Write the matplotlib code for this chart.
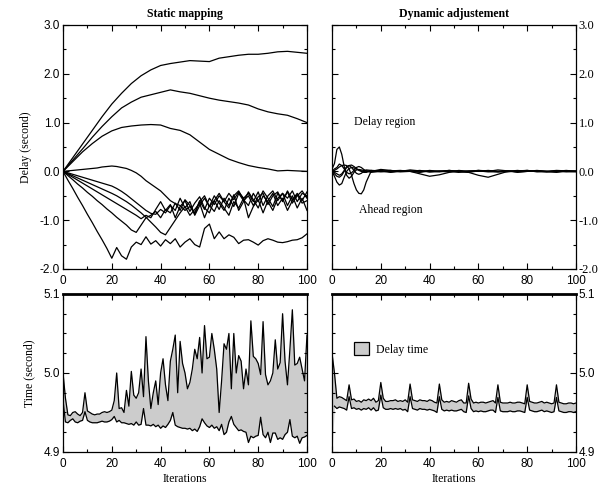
import numpy as np
import matplotlib
matplotlib.use("Agg")
import matplotlib.pyplot as plt
from matplotlib.ticker import MultipleLocator
from matplotlib.patches import Patch

# ---- static mapping: delay curves ----
iter_smooth = list(range(0, 101, 4))
delay_a = [0, 0.28, 0.56, 0.84, 1.12, 1.38, 1.6, 1.8, 1.96, 2.08, 2.17, 2.21, 2.24,
           2.27, 2.26, 2.25, 2.32, 2.35, 2.38, 2.40, 2.40, 2.42, 2.45, 2.46, 2.44, 2.42]
delay_b = [0, 0.23, 0.46, 0.7, 0.92, 1.12, 1.3, 1.42, 1.52, 1.57, 1.62, 1.67, 1.63,
           1.6, 1.55, 1.5, 1.46, 1.43, 1.4, 1.36, 1.28, 1.22, 1.18, 1.15, 1.08, 1.0]
delay_c = [0, 0.2, 0.4, 0.57, 0.72, 0.83, 0.9, 0.93, 0.95, 0.96, 0.95, 0.88, 0.84,
           0.75, 0.6, 0.45, 0.35, 0.25, 0.18, 0.12, 0.08, 0.05, 0.01, 0.02, 0.01, 0.0]

iter_noisy = list(range(0, 101, 2))
delay_d = [0, 0.01, 0.02, 0.03, 0.04, 0.05, 0.06, 0.07, 0.09, 0.1, 0.11,
           0.1, 0.08, 0.06, 0.02, -0.03, -0.1, -0.19, -0.26, -0.33, -0.4, -0.5, -0.6, -0.66, -0.7,
           -0.8, -0.72, -0.85, -0.6, -0.78, -0.55, -0.68, -0.5, -0.62, -0.45, -0.58, -0.42, -0.55,
           -0.45, -0.62, -0.42, -0.7, -0.5, -0.4, -0.6, -0.45, -0.55, -0.4, -0.62, -0.45, -0.5]
delay_e = [0, -0.03, -0.06, -0.09, -0.12, -0.15, -0.18, -0.21, -0.24, -0.27, -0.3,
           -0.35, -0.41, -0.48, -0.56, -0.64, -0.72, -0.8, -0.86, -0.88, -0.78, -0.85, -0.7, -0.8,
           -0.55, -0.75, -0.62, -0.9, -0.7, -0.55, -0.72, -0.5, -0.65, -0.8, -0.55, -0.72, -0.45,
           -0.6, -0.5, -0.7, -0.52, -0.45, -0.68, -0.5, -0.42, -0.62, -0.4, -0.58, -0.45, -0.6, -0.42]
delay_f = [0, -0.06, -0.12, -0.18, -0.24, -0.3, -0.36, -0.42, -0.48, -0.54, -0.6,
           -0.66, -0.72, -0.78, -0.84, -0.9, -0.97, -0.9, -0.95, -0.78, -0.62, -0.8, -0.68, -0.95,
           -0.72, -0.6, -0.82, -0.65, -0.52, -0.75, -0.85, -0.6, -0.78, -0.55, -0.7, -0.48, -0.8,
           -0.62, -0.42, -0.58, -0.75, -0.5, -0.62, -0.8, -0.55, -0.45, -0.7, -0.5, -0.75, -0.55, -0.8]
delay_g = [0, -0.085, -0.17, -0.26, -0.34, -0.43, -0.51, -0.6, -0.68, -0.77, -0.85,
           -0.94, -1.02, -1.1, -1.2, -1.25, -1.1, -0.95, -0.9, -0.82, -0.95, -0.78, -0.85, -0.65,
           -0.8, -0.58, -0.7, -0.88, -0.62, -0.5, -0.72, -0.6, -0.45, -0.62, -0.75, -0.5, -0.4,
           -0.58, -0.7, -0.45, -0.62, -0.4, -0.55, -0.72, -0.45, -0.6, -0.42, -0.65, -0.5, -0.4, -0.55]
delay_h = [0, -0.045, -0.09, -0.135, -0.18, -0.225, -0.27, -0.315, -0.36, -0.405, -0.45,
           -0.5, -0.56, -0.62, -0.69, -0.77, -0.85, -0.94, -1.04, -1.14, -1.25, -1.3, -1.15, -1.0,
           -0.85, -0.72, -0.9, -0.78, -0.65, -0.95, -0.7, -0.82, -0.6, -0.75, -0.9, -0.62, -0.75,
           -0.55, -0.95, -0.72, -0.58, -0.85, -0.6, -0.45, -0.7, -0.55, -0.8, -0.6, -0.48, -0.65, -0.6]
delay_i = [0, -0.18, -0.35, -0.53, -0.7, -0.88, -1.05, -1.23, -1.4, -1.58, -1.78,
           -1.56, -1.73, -1.8, -1.55, -1.45, -1.5, -1.34, -1.49, -1.42, -1.53, -1.4, -1.48, -1.38,
           -1.55, -1.45, -1.38, -1.5, -1.55, -1.17, -1.08, -1.38, -1.24, -1.38, -1.3, -1.35, -1.48,
           -1.41, -1.4, -1.45, -1.51, -1.42, -1.38, -1.41, -1.45, -1.46, -1.44, -1.41, -1.4, -1.36, -1.28]

# ---- dynamic adjustement: delay curves ----
iter_dyn = list(range(0, 15)) + list(range(16, 101, 4))
dyn_1 = [0.05, 0.16, 0.45, 0.5, 0.35, 0.1, -0.08, -0.14, -0.1, -0.02, 0.03, 0.04, 0.03, 0.02, 0.01,
         0.0, 0.02, -0.01, 0.01, 0.0, 0.02, -0.01, 0.01, 0.0, -0.02, 0.01, 0.0, 0.02, 0.0, -0.01,
         0.01, 0.0, 0.01, -0.01, 0.0, 0.02, 0.0]
dyn_2 = [0.0, 0.02, 0.05, 0.09, 0.12, 0.13, 0.12, 0.05, -0.08, -0.25, -0.38, -0.45, -0.46, -0.38, -0.22,
         0.0, 0.04, 0.02, 0.0, 0.01, -0.01, 0.02, 0.0, 0.01, -0.01, 0.0, 0.02, 0.01, -0.01, 0.0,
         0.01, 0.02, 0.0, -0.01, 0.01, 0.0, 0.01]
dyn_3 = [0.0, -0.1, -0.22, -0.28, -0.25, -0.12, 0.0, 0.06, 0.08, 0.07, 0.05, 0.03, 0.01, 0.0, -0.01,
         0.02, 0.01, -0.02, 0.0, 0.03, 0.01, -0.01, 0.0, 0.02, 0.0, -0.02, 0.01, 0.0, 0.03, 0.01,
         -0.01, 0.0, 0.02, 0.0, -0.02, 0.01, 0.0]
dyn_4 = [0.0, -0.05, -0.1, -0.12, -0.08, 0.0, 0.08, 0.12, 0.13, 0.1, 0.06, 0.02, 0.0, -0.02, -0.02,
         0.01, 0.0, 0.02, -0.01, 0.0, -0.05, -0.1, -0.07, -0.02, 0.01, 0.0, 0.02, 0.0, -0.01, 0.01,
         0.0, 0.02, -0.01, 0.0, 0.01, -0.01, 0.0]
dyn_5 = [0.0, 0.05, 0.08, 0.15, 0.12, 0.05, -0.02, -0.05, -0.03, 0.02, 0.08, 0.1, 0.08, 0.04, 0.01,
         -0.02, 0.0, 0.01, 0.02, 0.0, 0.01, 0.0, -0.01, 0.02, 0.0, -0.02, -0.08, -0.12, -0.06, 0.0,
         0.02, 0.0, 0.01, 0.0, 0.02, 0.01, 0.0]
dyn_6 = [0.0, -0.02, -0.05, -0.08, -0.05, 0.02, 0.1, 0.12, 0.08, 0.02, -0.04, -0.06, -0.04, 0.0, 0.03,
         0.02, -0.01, 0.0, 0.01, 0.0, -0.02, 0.01, 0.0, -0.01, 0.02, 0.0, 0.01, -0.01, 0.0, 0.01,
         -0.02, 0.0, 0.01, 0.0, -0.01, 0.0, -0.01]

# ---- time bands ----
iterations = list(range(0, 101))
static_upper = [5.000, 4.968, 4.947, 4.946, 4.950, 4.951, 4.948, 4.946, 4.950, 4.975,
                4.952, 4.950, 4.948, 4.947, 4.948, 4.948, 4.950, 4.951, 4.950, 4.951,
                4.953, 4.965, 5.000, 4.955, 4.956, 4.950, 4.978, 4.958, 5.002, 4.972,
                4.968, 4.975, 5.005, 4.970, 5.046, 4.990, 4.955, 4.975, 4.990, 4.960,
                5.000, 5.018, 4.985, 4.965, 5.015, 5.030, 5.048, 4.975, 5.040, 5.012,
                5.000, 4.980, 4.988, 5.005, 5.030, 5.018, 5.045, 5.000, 5.060, 5.018,
                5.020, 5.050, 5.030, 5.005, 4.950, 4.990, 5.037, 5.030, 5.050, 4.980,
                5.050, 5.000, 5.022, 5.015, 4.980, 5.005, 4.985, 5.066, 5.021, 5.018,
                5.012, 4.998, 5.065, 4.998, 4.985, 4.990, 5.000, 5.042, 5.005, 5.013,
                5.075, 5.015, 4.985, 5.030, 5.080, 5.010, 5.012, 5.020, 5.005, 4.990,
                5.048]
static_lower = [4.965, 4.938, 4.937, 4.940, 4.942, 4.938, 4.937, 4.939, 4.940, 4.951,
                4.940, 4.938, 4.937, 4.937, 4.937, 4.938, 4.939, 4.938, 4.938, 4.939,
                4.941, 4.945, 4.938, 4.940, 4.937, 4.937, 4.936, 4.935, 4.936, 4.934,
                4.938, 4.934, 4.935, 4.955, 4.934, 4.934, 4.933, 4.935, 4.932, 4.934,
                4.930, 4.933, 4.931, 4.935, 4.940, 4.950, 4.934, 4.932, 4.931, 4.930,
                4.930, 4.929, 4.930, 4.927, 4.929, 4.926, 4.932, 4.942, 4.937, 4.933,
                4.931, 4.934, 4.930, 4.932, 4.927, 4.935, 4.922, 4.925, 4.938, 4.945,
                4.935, 4.931, 4.927, 4.928, 4.926, 4.925, 4.912, 4.920, 4.918, 4.920,
                4.921, 4.944, 4.922, 4.918, 4.925, 4.912, 4.924, 4.924, 4.916, 4.918,
                4.916, 4.922, 4.925, 4.941, 4.920, 4.918, 4.920, 4.911, 4.918, 4.919,
                4.921]
dynamic_upper = [5.025, 5.000, 4.968, 4.970, 4.969, 4.967, 4.965, 4.985, 4.966, 4.967,
                 4.964, 4.965, 4.963, 4.966, 4.965, 4.967, 4.965, 4.968, 4.963, 4.965,
                 4.988, 4.968, 4.964, 4.964, 4.965, 4.965, 4.966, 4.964, 4.965, 4.964,
                 4.966, 4.963, 4.986, 4.966, 4.965, 4.964, 4.966, 4.965, 4.965, 4.964,
                 4.966, 4.965, 4.963, 4.962, 4.986, 4.966, 4.963, 4.964, 4.963, 4.965,
                 4.964, 4.963, 4.965, 4.966, 4.962, 4.962, 4.987, 4.967, 4.962, 4.963,
                 4.962, 4.963, 4.963, 4.962, 4.963, 4.964, 4.965, 4.962, 4.985, 4.963,
                 4.962, 4.962, 4.962, 4.963, 4.962, 4.962, 4.963, 4.963, 4.962, 4.961,
                 4.985, 4.964, 4.963, 4.962, 4.962, 4.963, 4.964, 4.962, 4.963, 4.962,
                 4.961, 4.962, 4.985, 4.963, 4.962, 4.961, 4.961, 4.962, 4.962, 4.961,
                 4.962]
dynamic_lower = [4.900, 4.958, 4.955, 4.957, 4.956, 4.955, 4.953, 4.970, 4.955, 4.956,
                 4.954, 4.955, 4.953, 4.955, 4.954, 4.956, 4.953, 4.956, 4.952, 4.953,
                 4.972, 4.956, 4.954, 4.954, 4.955, 4.954, 4.955, 4.954, 4.955, 4.953,
                 4.954, 4.951, 4.970, 4.955, 4.954, 4.953, 4.955, 4.954, 4.954, 4.953,
                 4.954, 4.953, 4.952, 4.950, 4.970, 4.954, 4.952, 4.953, 4.952, 4.953,
                 4.952, 4.952, 4.953, 4.954, 4.951, 4.950, 4.971, 4.955, 4.951, 4.952,
                 4.951, 4.952, 4.951, 4.951, 4.952, 4.953, 4.953, 4.950, 4.969, 4.952,
                 4.951, 4.951, 4.951, 4.952, 4.951, 4.951, 4.952, 4.952, 4.951, 4.950,
                 4.969, 4.953, 4.952, 4.951, 4.951, 4.952, 4.953, 4.951, 4.952, 4.951,
                 4.950, 4.951, 4.969, 4.952, 4.951, 4.950, 4.950, 4.951, 4.951, 4.950,
                 4.951]

delay_ticks = [-2, -1, 0, 1, 2, 3]
delay_labels = ["-2.0", "-1.0", "0.0", "1.0", "2.0", "3.0"]
time_ticks = [4.9, 5.0, 5.1]
time_labels = ["4.9", "5.0", "5.1"]

SANS = "Liberation Sans"
SERIF = "Liberation Serif"
FILL = "#cccccc"

fig = plt.figure(figsize=(6.03, 4.88), dpi=100)
ax_sd = fig.add_axes([0.1045, 0.4488, 0.4046, 0.5])
ax_dd = fig.add_axes([0.5506, 0.4488, 0.4046, 0.5])
ax_st = fig.add_axes([0.1045, 0.0738, 0.4046, 0.3238])
ax_dt = fig.add_axes([0.5506, 0.0738, 0.4046, 0.3238])


def style(ax, ymaj, ymin):
    ax.set_xlim(0, 100)
    ax.xaxis.set_major_locator(MultipleLocator(20))
    ax.xaxis.set_minor_locator(MultipleLocator(10))
    ax.yaxis.set_major_locator(MultipleLocator(ymaj))
    ax.yaxis.set_minor_locator(MultipleLocator(ymin))
    ax.tick_params(which="both", direction="in", top=True, right=True,
                   width=0.8, labelsize=8.5)
    ax.tick_params(axis="y", pad=2)
    ax.tick_params(axis="x", pad=4.5)
    ax.tick_params(which="major", length=4.5)
    ax.tick_params(which="minor", length=2.5)
    for sp in ax.spines.values():
        sp.set_linewidth(0.9)
    for lab in ax.get_xticklabels():
        lab.set_fontfamily(SANS)


# static delay
for xs, ys in [(iter_smooth, delay_a), (iter_smooth, delay_b), (iter_smooth, delay_c),
               (iter_noisy, delay_d), (iter_noisy, delay_e), (iter_noisy, delay_f),
               (iter_noisy, delay_g), (iter_noisy, delay_h), (iter_noisy, delay_i)]:
    ax_sd.plot(xs, ys, color="black", lw=0.9)
ax_sd.set_ylim(-2, 3)
style(ax_sd, 1.0, 0.5)
ax_sd.set_yticks(delay_ticks)
ax_sd.set_yticklabels(delay_labels, fontfamily=SANS)
ax_sd.set_ylabel("Delay (second)", fontfamily=SERIF, fontsize=8.5, labelpad=6)
ax_sd.set_title("Static mapping", fontfamily=SERIF, fontweight="bold", fontsize=8.5, pad=6)

# dynamic delay
for ys in [dyn_1, dyn_2, dyn_3, dyn_4, dyn_5, dyn_6]:
    ax_dd.plot(iter_dyn, ys, color="black", lw=0.9)
ax_dd.set_ylim(-2, 3)
style(ax_dd, 1.0, 0.5)
ax_dd.set_yticks(delay_ticks)
ax_dd.set_yticklabels(delay_labels, fontfamily=SERIF, fontsize=9)
ax_dd.tick_params(labelleft=False, labelright=True)
ax_dd.set_title("Dynamic adjustement", fontfamily=SERIF, fontweight="bold", fontsize=8.5, pad=6)
ax_dd.text(9, 0.95, "Delay region", fontfamily=SERIF, fontsize=8.5)
ax_dd.text(11, -0.85, "Ahead region", fontfamily=SERIF, fontsize=8.5)

# static time band
ax_st.fill_between(iterations, static_lower, static_upper, color=FILL, lw=0)
ax_st.plot(iterations, static_upper, color="black", lw=0.9)
ax_st.plot(iterations, static_lower, color="black", lw=0.9)
ax_st.set_ylim(4.9, 5.1)
style(ax_st, 0.1, 0.025)
ax_st.set_yticks(time_ticks)
ax_st.set_yticklabels(time_labels, fontfamily=SANS)
ax_st.spines["top"].set_linewidth(2)
ax_st.set_ylabel("Time (second)", fontfamily=SERIF, fontsize=8.5, labelpad=6)
ax_st.set_xlabel("Iterations", fontfamily=SERIF, fontsize=8.5, labelpad=2)

# dynamic time band (lower edge drawn from iteration 1; the first point only closes the fill)
ax_dt.fill_between(iterations, dynamic_lower, dynamic_upper, color=FILL, lw=0)
ax_dt.plot(iterations, dynamic_upper, color="black", lw=0.9)
ax_dt.plot(iterations[1:], dynamic_lower[1:], color="black", lw=0.9)
ax_dt.set_ylim(4.9, 5.1)
style(ax_dt, 0.1, 0.025)
ax_dt.set_yticks(time_ticks)
ax_dt.set_yticklabels(time_labels, fontfamily=SANS)
ax_dt.tick_params(labelleft=False, labelright=True)
ax_dt.spines["top"].set_linewidth(2)
ax_dt.set_xlabel("Iterations", fontfamily=SERIF, fontsize=8.5, labelpad=2)
ax_dt.legend(handles=[Patch(facecolor=FILL, edgecolor="black", lw=0.9, label="Delay time")],
             loc="upper left", bbox_to_anchor=(0.07, 0.725), frameon=False,
             prop={"family": SERIF, "size": 8.5}, handlelength=1.3, handleheight=1.3,
             handletextpad=0.6, borderaxespad=0)

fig.savefig("out.png", dpi=100)
